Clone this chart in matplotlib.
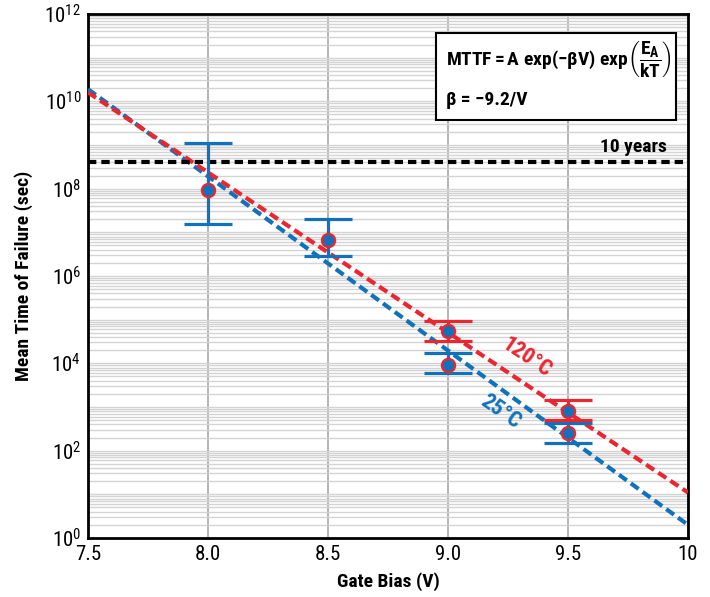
import matplotlib
matplotlib.use("Agg")
import matplotlib.pyplot as plt
from matplotlib import font_manager as fm
from matplotlib.patches import Rectangle
from matplotlib.ticker import LogLocator, NullFormatter

# measured points (sec)
bias = [8.0, 8.5, 9.0, 9.5]
mttf_25 = [9.3e7, 6.6e6, 9.2e3, 2.5e2]
low_25 = [1.55e7, 2.9e6, 6.0e3, 1.5e2]
high_25 = [1.11e9, 2.0e7, 1.7e4, 4.3e2]

bias_120 = [9.0, 9.5]
mttf_120 = [5.5e4, 8.1e2]
low_120 = [3.2e4, 5.0e2]
high_120 = [9.3e4, 1.45e3]

# fit line end points
fit_v = [7.5, 10.0]
fit_25 = [1.9e10, 2.0]
fit_120 = [1.6e10, 11.0]

ten_years = 4.1e8

BLUE = "#1172bc"
RED = "#ec2630"

# pick a narrow sans if one is installed
fonts = fm.fontManager.ttflist
names = {f.name for f in fonts}
FAM, STRETCH = None, "normal"
for cand in ["Liberation Sans Narrow", "Roboto Condensed", "Open Sans Condensed",
             "DejaVu Sans Condensed", "Noto Sans Condensed"]:
    if cand in names:
        FAM = cand
        break
if FAM is None:
    cond = [f for f in fonts if f.stretch in ("condensed", "semi-condensed",
                                              "extra-condensed")]
    if cond:
        FAM, STRETCH = cond[0].name, cond[0].stretch
    else:
        FAM = "Roboto" if "Roboto" in names else "DejaVu Sans"

plt.rcParams["font.family"] = [FAM, "DejaVu Sans"]
plt.rcParams["font.stretch"] = STRETCH
mt = f"{FAM}:bold" + (f":{STRETCH}" if STRETCH != "normal" else "")
plt.rcParams["mathtext.fontset"] = "custom"
plt.rcParams["mathtext.rm"] = mt
plt.rcParams["mathtext.it"] = mt
plt.rcParams["mathtext.bf"] = mt

fig = plt.figure(figsize=(7.10, 5.97), dpi=100)
ax = fig.add_axes([88 / 710, 59 / 597, 600 / 710, 524 / 597])

ax.set_yscale("log")
ax.set_xlim(7.5, 10)
ax.set_ylim(1, 1e12)
ax.set_xticks([7.5, 8.0, 8.5, 9.0, 9.5, 10])
ax.set_xticklabels(["7.5", "8.0", "8.5", "9.0", "9.5", "10"])
ax.set_yticks([10.0 ** k for k in range(0, 13, 2)])
ax.set_yticklabels([f"$\\mathregular{{10^{{{k}}}}}$" for k in range(0, 13, 2)])
ax.yaxis.set_minor_locator(LogLocator(base=10, subs=range(1, 10), numticks=30))
ax.yaxis.set_minor_formatter(NullFormatter())
ax.tick_params(length=0, which="both", labelsize=15, pad=5)

ax.grid(True, axis="y", which="both", color="#d4d4d4", lw=1.0)
ax.grid(True, axis="x", which="major", color="#b4b4b4", lw=1.4)
ax.set_axisbelow(True)
for s in ax.spines.values():
    s.set_linewidth(2)
    s.set_color("black")

# fit lines
ax.plot(fit_v, fit_25, color=BLUE, lw=3, dashes=(2.3, 1.2), zorder=3)
ax.plot(fit_v, fit_120, color=RED, lw=3, dashes=(2.3, 1.2), zorder=3)

# 10 years
ax.axhline(ten_years, color="black", lw=3, dashes=(2.0, 1.2), zorder=3)
ax.text(0.965, ten_years * 1.35, "10 years", transform=ax.get_yaxis_transform(),
        ha="right", va="bottom", fontsize=14, fontweight="bold")

# error bars
ax.errorbar(bias, mttf_25,
            yerr=[[m - l for m, l in zip(mttf_25, low_25)],
                  [h - m for m, h in zip(mttf_25, high_25)]],
            fmt="none", ecolor=BLUE, elinewidth=2.3, capsize=17.5,
            capthick=2.3, zorder=4)
ax.errorbar(bias_120, mttf_120,
            yerr=[[m - l for m, l in zip(mttf_120, low_120)],
                  [h - m for m, h in zip(mttf_120, high_120)]],
            fmt="none", ecolor=RED, elinewidth=2.3, capsize=17.5,
            capthick=2.3, zorder=4)
ax.plot(bias, mttf_25, "o", ms=9.5, mfc=BLUE, mec=RED, mew=1.6, zorder=5)
ax.plot(bias_120, mttf_120, "o", ms=9.5, mfc=BLUE, mec=RED, mew=1.6, zorder=5)

# curve labels
ax.text(9.325, 10 ** 4.145, "120°C", color=RED, fontsize=16, fontweight="bold",
        rotation=-34, ha="center", va="center", zorder=6)
ax.text(9.22, 10 ** 2.885, "25°C", color=BLUE, fontsize=16, fontweight="bold",
        rotation=-35, ha="center", va="center", zorder=6)

# formula box
ax.add_patch(Rectangle((0.58, 0.798), 0.40, 0.166, transform=ax.transAxes,
                       facecolor="white", edgecolor="black", lw=1.5, zorder=6))
ax.text(0.597, 0.912,
        "$\\mathrm{MTTF = A\\ exp(\u2212\\beta V)\\ exp}\\left(\\dfrac{E_A}{kT}\\right)$",
        transform=ax.transAxes, ha="left", va="center", fontsize=14, zorder=7)
ax.text(0.597, 0.835, "β = −9.2/V", transform=ax.transAxes, ha="left",
        va="center", fontsize=14, fontweight="bold", zorder=7)

ax.set_xlabel("Gate Bias (V)", fontsize=14, fontweight="bold", labelpad=6)
ax.set_ylabel("Mean Time of Failure (sec)", fontsize=14, fontweight="bold",
              labelpad=8)

fig.savefig("out.png", dpi=100)
